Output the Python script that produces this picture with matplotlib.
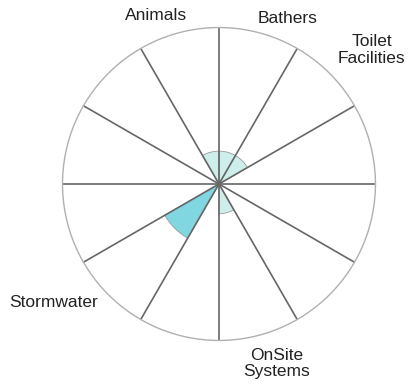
import numpy as np
import matplotlib
matplotlib.use('Agg')
import matplotlib.pyplot as plt

plt.rcParams['font.family'] = ['Liberation Sans', 'DejaVu Sans']

# 12 sectors of 30 degrees, counter-clockwise from east
categories = ["", "Toilet\nFacilities", "Bathers", "Animals", "", "", "",
              "Stormwater", "", "OnSite\nSystems", "", ""]
values = [0, 0.21, 0.21, 0.21, 0, 0, 0, 0.40, 0, 0.19, 0, 0]
bar_colors = ["#cdeeea", "#cdeeea", "#cdeeea", "#cdeeea", "#cdeeea", "#cdeeea",
              "#cdeeea", "#80d7e2", "#cdeeea", "#cdeeea", "#cdeeea", "#cdeeea"]

# label placement (angle in degrees, radius, alignment)
label_angle = {"Toilet\nFacilities": 48.4, "Bathers": 76.1, "Animals": 101.2,
               "Stormwater": 224.5, "OnSite\nSystems": 289.5}
label_r = {"Toilet\nFacilities": 1.145, "Bathers": 1.04, "Animals": 1.049,
           "Stormwater": 1.085, "OnSite\nSystems": 1.11}
label_align = {"Toilet\nFacilities": ("left", "center"), "Bathers": ("left", "bottom"),
               "Animals": ("right", "bottom"), "Stormwater": ("right", "center"),
               "OnSite\nSystems": ("center", "top")}

fig = plt.figure(figsize=(4.08, 3.85), dpi=100)
ax = fig.add_axes([0.1532, 0.1156, 0.767, 0.813], projection='polar')

n = len(categories)
width = 2 * np.pi / n
theta = np.arange(n) * width + width / 2
ax.bar(theta, values, width=width, color=bar_colors, edgecolor="#9a9a9a",
       linewidth=0.6, zorder=1)

ax.set_ylim(0, 1)
ax.set_yticks([])
ax.set_thetagrids(np.arange(0, 360, 30), labels=[])
ax.xaxis.grid(True, color="#666666", linewidth=1.2, zorder=2)
ax.yaxis.grid(False)
ax.spines['polar'].set_color("#b0b0b0")
ax.spines['polar'].set_linewidth(1.0)

for name in categories:
    if not name:
        continue
    ha, va = label_align[name]
    ax.text(np.deg2rad(label_angle[name]), label_r[name], name, ha=ha, va=va,
            multialignment='center', fontsize=12.5, color="#222222",
            clip_on=False, linespacing=1.1)

fig.savefig("out.png", dpi=100)
